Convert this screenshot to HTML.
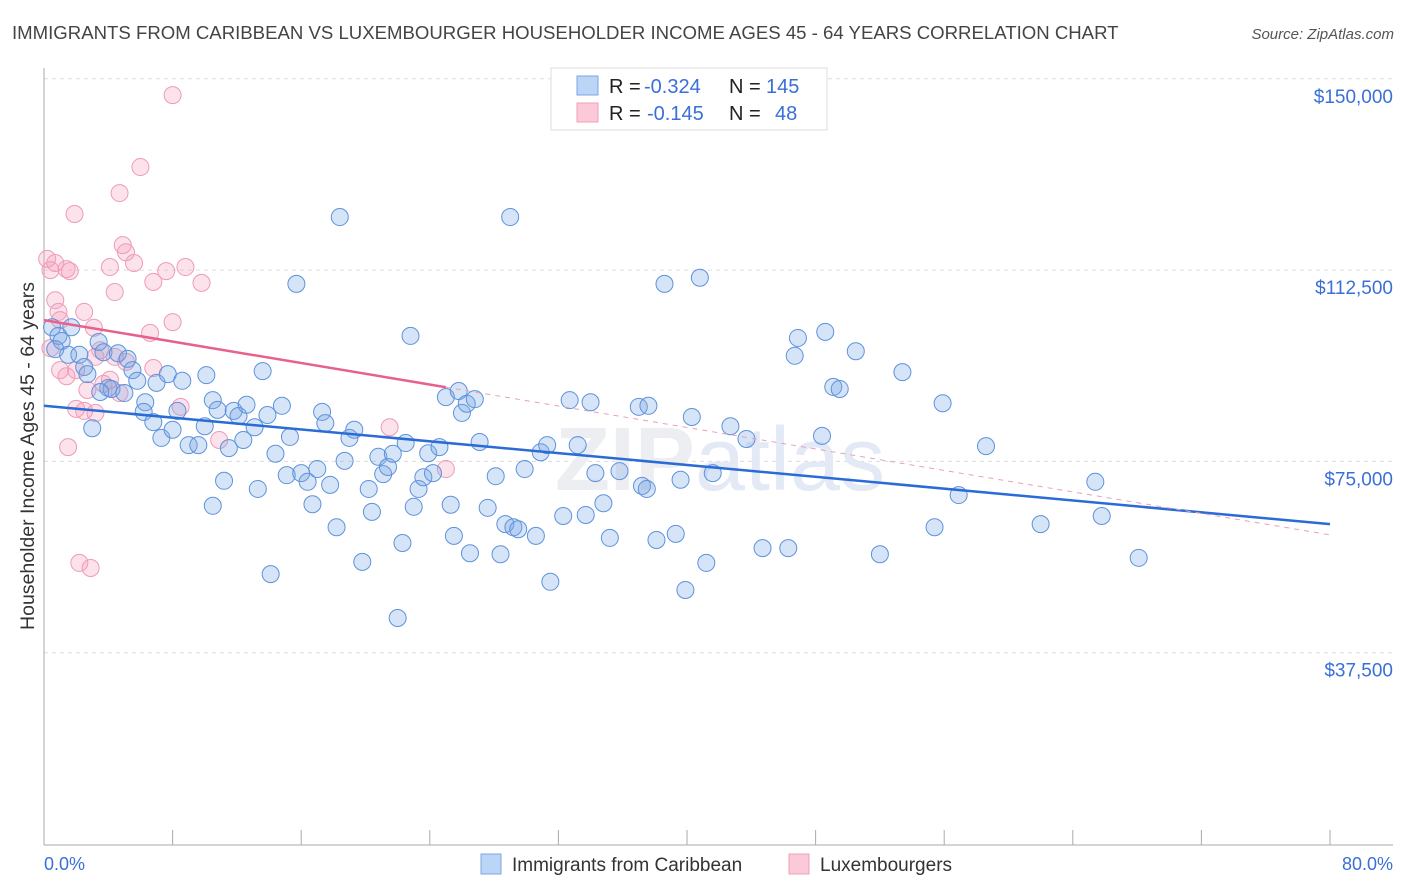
<!DOCTYPE html>
<html><head><meta charset="utf-8"><style>
body{margin:0;background:#fff;font-family:"Liberation Sans",sans-serif;}
svg{display:block}
</style></head><body>
<svg id="chart" width="1406" height="892">
<text x="12" y="39" font-size="18.6" fill="#444">IMMIGRANTS FROM CARIBBEAN VS LUXEMBOURGER HOUSEHOLDER INCOME AGES 45 - 64 YEARS CORRELATION CHART</text>
<text x="1394" y="39" font-size="15" fill="#555" font-style="italic" text-anchor="end">Source: ZipAtlas.com</text>
<text transform="translate(34,456) rotate(-90)" font-size="19.5" fill="#333" text-anchor="middle">Householder Income Ages 45 - 64 years</text>
<g id="grid"></g>
<text x="720" y="490" font-size="90" fill="#eceef2" text-anchor="middle" font-weight="bold">ZIP<tspan font-weight="normal" fill="#e3eaf6">atlas</tspan></text>
<g id="marks"></g>
<g>
<rect x="551" y="68" width="276" height="62" fill="#fff" stroke="#ddd"/>
<rect x="577" y="76" width="21" height="19" fill="#bcd4f5" stroke="#7aa6e6"/>
<rect x="577" y="103" width="21" height="19" fill="#fcc9d8" stroke="#f0a0b8"/>
<g font-size="20">
<text x="609" y="93" fill="#222">R =</text><text x="644" y="93" fill="#3a6fd8">-0.324</text>
<text x="729" y="93" fill="#222">N =</text><text x="766" y="93" fill="#3a6fd8">145</text></g>
<g font-size="20">
<text x="609" y="120" fill="#222">R =</text><text x="647" y="120" fill="#3a6fd8">-0.145</text>
<text x="729" y="120" fill="#222">N =</text><text x="775" y="120" fill="#3a6fd8">48</text></g>
</g>
<text x="44" y="870" font-size="18" fill="#3a6fd8">0.0%</text>
<text x="1393" y="870" font-size="18" fill="#3a6fd8" text-anchor="end">80.0%</text>
<rect x="481" y="854" width="20" height="20" fill="#bcd4f5" stroke="#7aa6e6"/>
<text x="512" y="871" font-size="19" fill="#333">Immigrants from Caribbean</text>
<rect x="789" y="854" width="20" height="20" fill="#fcc9d8" stroke="#f0a0b8"/>
<text x="820" y="871" font-size="19" fill="#333">Luxembourgers</text>
</svg>
<script>
const yTicks=[37500,75000,112500,150000];
const yTickLabels=["$37,500","$75,000","$112,500","$150,000"];
const xTicks=[0,8,16,24,32,40,48,56,64,72,80];
const blueX=[0.5,0.9,1.7,1.1,0.7,1.5,2.2,2.5,2.7,3.4,3.7,4.0,4.2,3.5,4.6,5.0,5.2,5.5,5.8,3.0,6.3,6.2,7.0,6.8,7.3,7.7,8.0,8.3,8.6,9.0,9.6,10.0,10.1,10.5,10.8,11.2,10.5,11.5,11.8,12.1,12.4,12.6,13.1,13.3,13.6,13.9,14.1,14.4,14.8,15.1,15.3,15.7,16.0,16.4,16.7,17.0,17.3,17.5,17.8,18.2,18.4,18.7,19.0,19.3,19.8,20.2,20.4,20.8,21.1,21.4,21.7,22.0,22.3,22.5,22.8,23.0,23.3,23.6,23.9,24.2,24.6,25.0,25.3,25.5,25.8,26.0,26.3,26.5,26.8,27.1,27.6,28.1,28.4,28.7,29.0,29.2,29.5,29.9,30.6,30.9,31.3,31.5,32.3,32.7,33.2,33.7,34.0,34.3,34.8,35.2,35.8,37.0,37.2,37.5,37.6,38.1,38.6,39.3,39.6,39.9,40.3,40.8,41.2,41.6,42.7,43.7,44.7,46.3,46.7,46.9,48.4,48.6,49.1,49.5,50.5,52.0,53.4,55.4,55.9,56.9,58.6,62.0,65.4,65.8,68.1];
const blueY=[101.3,99.6,101.3,98.6,97.0,95.9,95.9,93.5,92.1,98.4,96.4,89.4,89.2,88.6,96.2,88.4,95.1,92.9,90.8,81.5,86.6,84.7,90.4,82.7,79.6,92.1,81.2,84.9,90.8,78.2,78.2,81.9,91.9,87.0,85.1,71.2,66.3,77.6,84.9,83.9,79.2,86.1,81.7,69.6,92.7,84.1,52.9,76.5,85.9,72.3,79.8,109.8,72.7,71.0,66.6,73.5,84.7,82.5,70.4,62.1,122.9,75.1,79.6,81.2,55.3,69.6,65.1,75.9,72.5,73.9,76.5,44.3,59.0,78.6,99.6,66.1,69.6,71.9,76.6,72.7,77.8,87.6,66.5,60.4,88.8,84.5,86.3,57.0,87.2,78.8,65.9,72.1,56.8,62.7,122.9,62.1,61.7,73.5,60.4,76.8,78.2,51.4,64.3,87.0,78.2,64.5,86.6,72.7,66.8,60.0,73.1,85.7,70.2,69.6,85.9,59.6,109.8,60.8,71.4,49.8,83.7,111.0,55.1,72.7,81.9,79.4,58.0,58.0,95.7,99.2,80.0,100.4,89.6,89.2,96.6,56.8,92.5,62.1,86.4,68.4,78.0,62.7,71.0,64.3,56.1];
const pinkX=[8.0,6.0,4.7,1.9,0.2,0.7,1.4,1.6,0.4,4.9,5.1,4.1,5.6,7.6,8.8,6.8,9.8,4.4,0.7,2.5,0.9,1.0,3.1,6.6,8.0,3.5,3.2,4.4,5.1,6.8,1.0,1.4,2.0,2.7,3.7,4.1,4.7,8.5,2.0,2.5,3.2,1.5,10.9,21.5,25.0,2.2,2.9,0.4];
const pinkY=[146.8,132.7,127.6,123.5,114.7,113.9,112.7,112.3,112.5,117.4,116.0,113.1,113.9,112.3,113.1,110.2,110.0,108.2,106.6,104.3,104.3,102.7,101.2,100.2,102.3,96.8,95.5,95.5,94.5,93.3,92.9,91.7,92.9,89.0,90.2,91.0,88.4,85.7,85.3,84.9,84.5,77.8,79.2,81.7,73.5,55.1,54.1,97.2];
const blueTrend=[85.9,62.7];
const pinkTrend=[102.7,60.6];
const pinkSolidEnd=25;

const X0=44,X1=1330,Y0=844,PXK=191.3/37.5;
const sx=v=>X0+(v/80)*(X1-X0);
const sy=v=>Y0-v*PXK;
const NS="http://www.w3.org/2000/svg";
function mk(tag,attrs,parent){const e=document.createElementNS(NS,tag);for(const k in attrs)e.setAttribute(k,attrs[k]);parent.appendChild(e);return e;}
const grid=document.getElementById('grid'),marks=document.getElementById('marks');
yTicks.forEach((t,i)=>{
  const y=sy(t/1000);
  const l=mk('line',{x1:44,x2:1393,y1:y,y2:y,stroke:'#dcdcdc','stroke-dasharray':'4,4'},grid);
  
  
  const tx=mk('text',{x:1393,y:y+24,'font-size':19,fill:'#3a6fd8','text-anchor':'end'},grid);
  tx.textContent=yTickLabels[i];
  
  
});
const ax=mk('line',{x1:44,x2:44,y1:68,y2:845,stroke:'#aaa'},grid);


const bx=mk('line',{x1:44,x2:1393,y1:845,y2:845,stroke:'#aaa'},grid);


xTicks.forEach(t=>{
  const x=sx(t);
  const tk=mk('line',{x1:x,x2:x,y1:830,y2:845,stroke:'#aaa'},grid);
  
  
});
pinkX.forEach((v,i)=>{
  const c=mk('circle',{cx:sx(v),cy:sy(pinkY[i]),r:8.5,fill:'rgba(244,160,188,0.3)',stroke:'#ee9bb6','stroke-width':1},marks);
  
  
});
blueX.forEach((v,i)=>{
  const c=mk('circle',{cx:sx(v),cy:sy(blueY[i]),r:8.5,fill:'rgba(120,165,230,0.3)',stroke:'#5e92dc','stroke-width':1},marks);
  
  
});
const bt=mk('line',{x1:sx(0),y1:sy(blueTrend[0]),x2:sx(80),y2:sy(blueTrend[1]),stroke:'#2a6bd6','stroke-width':2.5},marks);


const pm=pinkTrend[0]+(pinkTrend[1]-pinkTrend[0])*pinkSolidEnd/80;
const pt=mk('line',{x1:sx(0),y1:sy(pinkTrend[0]),x2:sx(pinkSolidEnd),y2:sy(pm),stroke:'#e8608c','stroke-width':2.5},marks);


const pd=mk('line',{x1:sx(pinkSolidEnd),y1:sy(pm),x2:sx(80),y2:sy(pinkTrend[1]),stroke:'#e8a0b8','stroke-width':1,'stroke-dasharray':'5,5'},marks);


</script>
</body></html>
